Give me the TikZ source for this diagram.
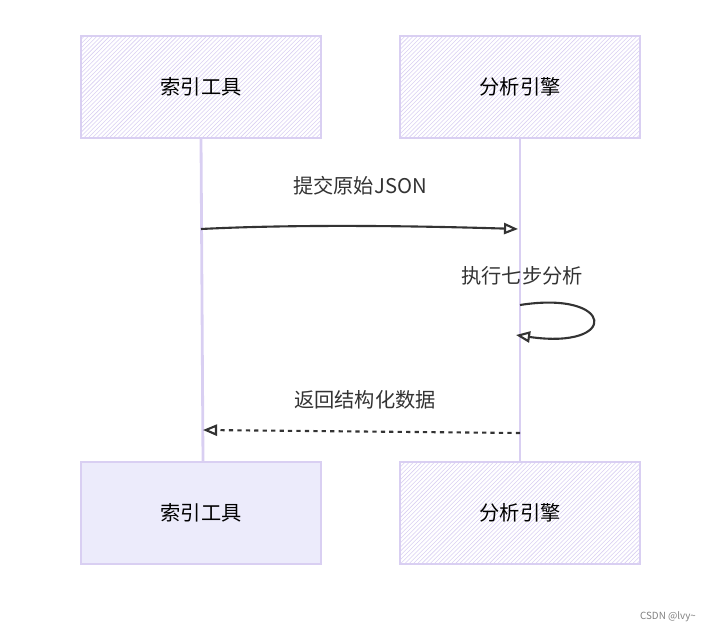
\documentclass[tikz,border=0pt]{standalone}
\usepackage{fontspec}
\setmainfont{Noto Sans CJK SC}
\usetikzlibrary{patterns,arrows.meta}
\definecolor{lilac}{HTML}{D9CFF2}
\definecolor{lilacfill}{HTML}{ECEBFB}
\definecolor{ink}{HTML}{333333}
\tikzset{
  actor/.style={draw=lilac, line width=1pt, pattern=north east lines, pattern color=lilac,
    minimum width=240*0.025cm, minimum height=102*0.025cm, font=\Large},
  actorfull/.style={actor, fill=lilacfill},
  life/.style={draw=lilac, line width=2pt},
  msg/.style={draw=ink, line width=1.5pt, -{Triangle[open,length=10pt,width=8pt]}},
  lbl/.style={font=\Large, text=ink}
}
\begin{document}
\begin{tikzpicture}[x=0.025cm,y=-0.025cm]
\useasboundingbox (0,0) rectangle (709,631);

% Lifelines
\draw[life] (201,138) -- (203,462);
\draw[life] (520,138) -- (520,462);

% Actors
\node[actor] (idxtop) at (201,87) {索引工具};
\node[actor] (engtop) at (520,87) {分析引擎};
\node[actorfull] (idxbot) at (201,513) {索引工具};
\node[actor] (engbot) at (520,513) {分析引擎};

% Messages
\coordinate (m1s) at (201,229);
\coordinate (m1e) at (518,229);
\draw[msg] (m1s) .. controls (300,224) and (420,226) .. (m1e);
\node[lbl] (m1) at (360,186) {提交原始JSON};

\coordinate (s1) at (520,305);
\coordinate (s2) at (516,335);
\draw[msg] (s1) .. controls (615,290) and (620,350) .. (s2);
\node[lbl] (m2) at (522,276) {执行七步分析};

\coordinate (m3s) at (520,433);
\coordinate (m3e) at (203,430);
\draw[msg, dashed] (m3s) -- (m3e);
\node[lbl] (m3) at (365,400) {返回结构化数据};

% Watermark
\node[font=\scriptsize, text=gray] (wm) at (668,617) {CSDN @lvy\textasciitilde};
\end{tikzpicture}
\end{document}
